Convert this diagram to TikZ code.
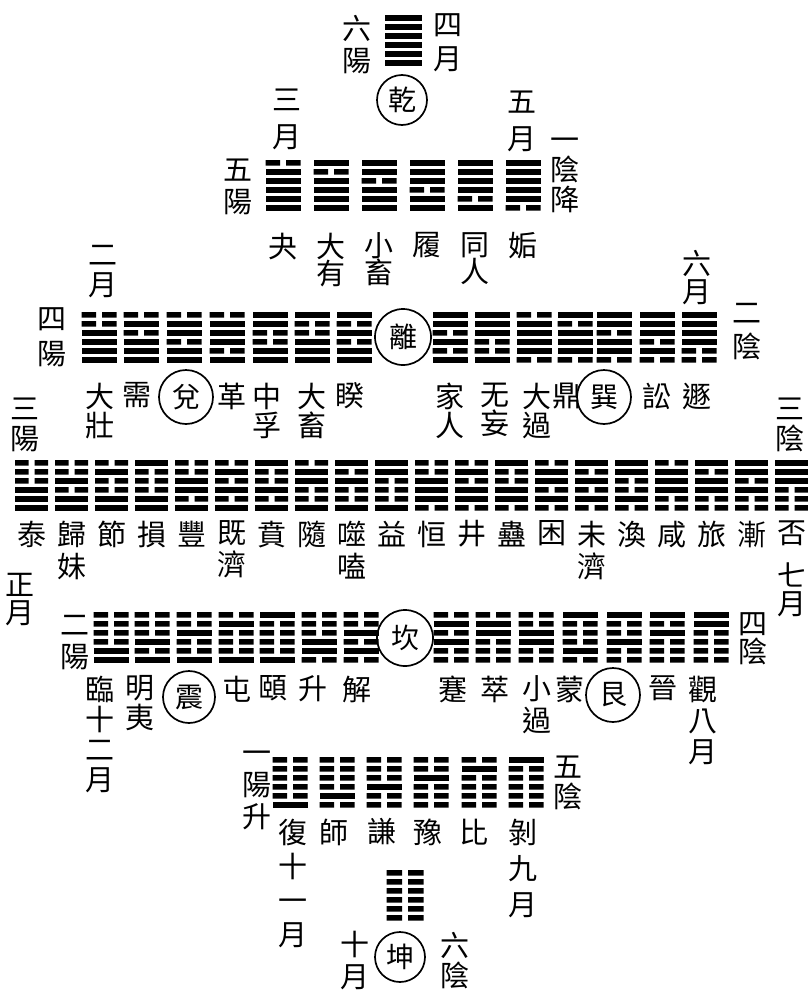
\documentclass[tikz,border=0pt]{standalone}
\usepackage{fontspec}
\newfontfamily\cjk{Noto Sans CJK TC}
\def\hw{35}
\newcommand\hexline[4]{% x, ytop, k, bit
  \pgfmathsetmacro\ya{#2+#3*9}\pgfmathsetmacro\yb{\ya+5.5}%
  \pgfmathsetmacro\xa{#1-\hw/2}\pgfmathsetmacro\xb{#1+\hw/2}%
  \ifnum#4=1\relax
    \fill (\xa,\ya) rectangle (\xb,\yb);
  \else
    \pgfmathsetmacro\xc{#1-3}\pgfmathsetmacro\xd{#1+3}%
    \fill (\xa,\ya) rectangle (\xc,\yb) (\xd,\ya) rectangle (\xb,\yb);
  \fi}
\def\hexgA#1#2#3#4#5#6#7#8{%
  \hexline{#1}{#2}{0}{#3}\hexline{#1}{#2}{1}{#4}\hexline{#1}{#2}{2}{#5}%
  \hexline{#1}{#2}{3}{#6}\hexline{#1}{#2}{4}{#7}\hexline{#1}{#2}{5}{#8}}
\newcommand\hexa[3]{\edef\hxtmp{\noexpand\hexgA{#1}{#2}#3}\hxtmp}
\newcommand\vl[5]{\node[lab, font={\cjk\fontsize{29}{#4}\selectfont\lineskiplimit=-50pt}] (#1) at (#2,#3-14.5) {#5};}
\begin{document}
\begin{tikzpicture}[x=1pt,y=-1pt,
  lab/.style={inner sep=0pt, align=center, anchor=north},
  ring/.style={circle, draw, line width=1.7pt, inner sep=0pt, font={\cjk\fontsize{28}{28}\selectfont}}]
\useasboundingbox (0,0) rectangle (808,996);

% ---- top: qian ----
\def\hw{37}
\hexa{403}{15}{111111}
\node[ring, minimum size=50] (qian) at (402,100) {乾};
\vl{l6y}{357}{30}{32}{六\\陽}
\vl{m4}{448}{28}{34}{四\\月}

% ---- row 1 ----
\def\hw{35}
\foreach \x/\p in {283/011111, 331/101111, 379/110111, 427/111011, 475/111101, 523/111110}
  {\hexa{\x}{160}{\p}}
\vl{m3}{287}{103}{37}{三\\月}
\vl{l5y}{238}{173}{32}{五\\陽}
\vl{m5}{522}{105}{37}{五\\月}
\vl{l1y}{565}{152}{30}{一\\陰\\降}
\vl{guai}{283}{247}{27}{夬}
\vl{dayou}{331}{247}{27}{大\\有}
\vl{xiaoxu}{379}{247}{27}{小\\畜}
\vl{lv}{427}{247}{27}{履}
\vl{tongren}{475}{247}{27}{同\\人}
\vl{gou}{523}{247}{27}{姤}

% ---- row 2 ----
\foreach \x/\p in {99/001111, 141/010111, 184/011011, 227/011101, 270/110011, 312/100111, 354/101011,
  450/110101, 492/111001, 534/011110, 575/101110, 614/110110, 657/111010, 699/111100}
  {\hexa{\x}{312}{\p}}
\node[ring, minimum size=56] (li) at (403,337) {離};
\vl{m2}{103}{260}{30}{二\\月}
\vl{l4y}{52}{322}{35}{四\\陽}
\vl{m6}{697}{265}{28}{六\\月}
\vl{l2y}{747}{318}{34}{二\\陰}
\vl{dazhuang}{100}{397}{29}{大\\壯}
\vl{xu}{137}{397}{29}{需}
\node[ring, minimum size=54] (dui) at (186,397) {兌};
\vl{ge}{232}{397}{29}{革}
\vl{zhongfu}{267}{397}{29}{中\\孚}
\vl{daxu}{312}{397}{29}{大\\畜}
\vl{kui}{350}{397}{29}{睽}
\vl{jiaren}{450}{397}{29}{家\\人}
\vl{wuwang}{495}{397}{29}{无\\妄}
\vl{daguo}{537}{397}{29}{大\\過}
\vl{ding}{567}{397}{29}{鼎}
\node[ring, minimum size=54] (xun) at (604,397) {巽};
\vl{song}{657}{397}{29}{訟}
\vl{dun}{697}{397}{29}{遯}

% ---- row 3 ----
\def\hw{33}
\foreach \p [count=\i from 0] in {000111, 001011, 010011, 100011, 001101, 010101, 100101, 011001, 101001, 110001,
  001110, 010110, 100110, 011010, 101010, 110010, 011100, 101100, 110100, 111000}
  {\pgfmathsetmacro\xx{31.5+40*\i}\hexa{\xx}{460}{\p}}
\vl{l3y}{25}{412}{30}{三\\陽}
\vl{l3n}{790}{412}{30}{三\\陰}
\foreach \t [count=\i from 0] in {泰, 歸\\妹, 節, 損, 豐, 既\\濟, 賁, 隨, 噬\\嗑, 益, 恒, 井, 蠱, 困, 未\\濟, 渙, 咸, 旅, 漸, 否}
  {\node[lab, font={\cjk\fontsize{29}{32}\selectfont\lineskiplimit=-50pt}] (r3n\i) at ({32+40*\i},520.5) {\t};}
\vl{m1}{20}{588}{28}{正\\月}
\vl{m7}{792}{577}{28}{七\\月}

% ---- row 4 ----
\def\hw{35}
\foreach \x/\p in {111/000011, 152/000101, 194/001001, 236/010001, 277/100001, 319/000110, 361/001010,
  451/010100, 493/011000, 536/001100, 580/100010, 624/100100, 667/101000, 711/110000}
  {\hexa{\x}{612}{\p}}
\node[ring, minimum size=56] (kan) at (405,638) {坎};
\vl{l2yang}{75}{630}{32}{二\\陽}
\vl{l4n}{753}{627}{28}{四\\陰}
\vl{lin}{100}{690}{30}{臨\\十\\二\\月}
\vl{mingyi}{140}{690}{30}{明\\夷}
\node[ring, minimum size=52] (zhen) at (189,697) {震};
\vl{zhun}{237}{690}{30}{屯}
\vl{yi}{273}{690}{30}{頤}
\vl{sheng}{313}{690}{30}{升}
\vl{xie}{357}{690}{30}{解}
\vl{jian}{453}{690}{30}{蹇}
\vl{cui}{495}{690}{30}{萃}
\vl{xiaoguo}{537}{690}{32}{小\\過}
\vl{meng}{570}{690}{30}{蒙}
\node[ring, minimum size=54] (gen) at (613,695) {艮};
\vl{jin}{663}{690}{30}{晉}
\vl{guan}{703}{690}{31}{觀\\八\\月}

% ---- row 5 ----
\foreach \x/\p in {290/000001, 337/000010, 384/000100, 431/001000, 479/010000, 526/100000}
  {\hexa{\x}{757}{\p}}
\vl{l1yang}{257}{765}{32}{一\\陽\\升}
\vl{l5n}{568}{770}{30}{五\\陰}
\vl{fu}{293}{833}{34}{復\\十\\一\\月}
\vl{shi}{334}{833}{34}{師}
\vl{qianh}{382}{833}{34}{謙}
\vl{yu}{428}{833}{34}{豫}
\vl{bi}{474}{833}{34}{比}
\vl{bo}{523}{833}{36}{剝\\九\\月}

% ---- bottom: kun ----
\def\hw{37}
\hexa{405}{870}{000000}
\node[ring, minimum size=50] (kun) at (400,957) {坤};
\vl{m10}{355}{945}{32}{十\\月}
\vl{l6n}{455}{947}{30}{六\\陰}
\end{tikzpicture}
\end{document}
